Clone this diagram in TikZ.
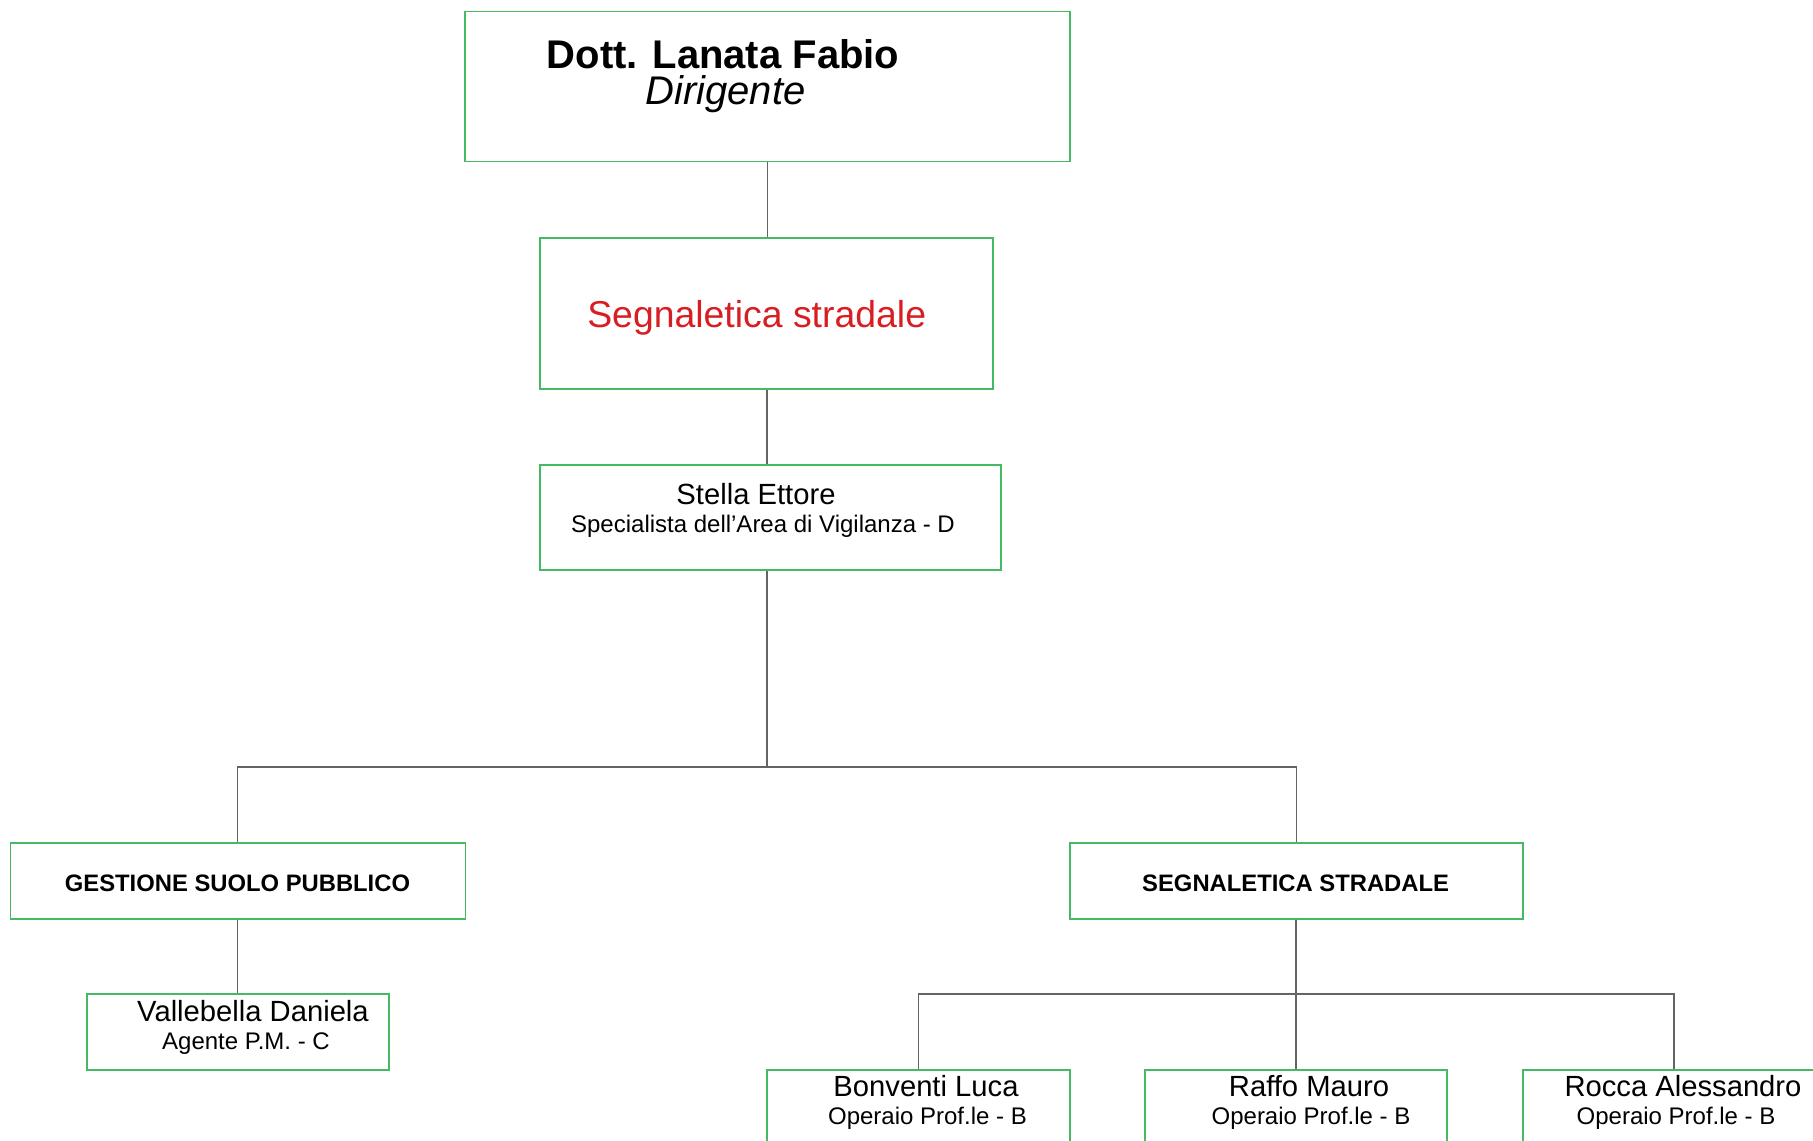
\documentclass[tikz,border=0pt]{standalone}
\usepackage{fontspec}
\setmainfont{Liberation Sans}
\definecolor{boxgreen}{RGB}{70,185,100}
\definecolor{titlered}{RGB}{215,30,35}
\definecolor{linkgray}{RGB}{100,100,100}

\tikzset{
  box/.style={draw=boxgreen,line width=0.6pt,inner sep=0pt},
  link/.style={draw=linkgray,line width=0.7pt},
  txt/.style={anchor=base,inner sep=0pt},
  person/.style={txt,font=\fontsize{14.6pt}{17pt}\selectfont},
  role/.style={txt,font=\fontsize{12pt}{14pt}\selectfont},
  unit/.style={txt,font=\bfseries\fontsize{11.9pt}{14pt}\selectfont}
}

\begin{document}
\begin{tikzpicture}[x=0.5pt,y=-0.5pt]

\clip (0,0) rectangle (1813,1140);
\fill[white] (0,0) rectangle (1813,1140);

% boxes
\node[box,minimum width=302.5pt,minimum height=75pt](dir) at (767.5,86.8){};
\node[box,minimum width=226.5pt,minimum height=75.5pt](topic) at (766.5,313.5){};
\node[box,minimum width=230.5pt,minimum height=52.5pt](stella) at (770.5,517.5){};
\node[box,minimum width=227.5pt,minimum height=38pt](gsp) at (237.7,881){};
\node[box,minimum width=226.5pt,minimum height=38pt](segst) at (1296.5,881){};
\node[box,minimum width=151pt,minimum height=38pt](valle) at (238,1032){};
\node[box,minimum width=151.5pt,minimum height=38pt](bonventi) at (918.5,1108){};
\node[box,minimum width=151pt,minimum height=38pt](raffo) at (1296,1108){};
\node[box,minimum width=151pt,minimum height=38pt](rocca) at (1674,1108){};

% texts
\node[txt,font=\bfseries\fontsize{20pt}{24pt}\selectfont](dirName) at (723,68){Dott. Lanata Fabio};
\node[txt,font=\itshape\fontsize{20pt}{24pt}\selectfont](dirRole) at (725.5,104.5){Dirigente};
\node[txt,text=titlered,font=\fontsize{18.7pt}{22pt}\selectfont](topicName) at (756.7,327){Segnaletica stradale};
\node[person](stellaName) at (756,504){Stella Ettore};
\node[role](stellaRole) at (763,532){Specialista dell’Area di Vigilanza - D};
\node[unit](gspName) at (237.5,891.5){GESTIONE SUOLO PUBBLICO};
\node[unit](segstName) at (1295.6,891.5){SEGNALETICA STRADALE};
\node[person](valleName) at (253,1021){Vallebella Daniela};
\node[role](valleRole) at (246,1049){Agente P.M. - C};
\node[person](bonventiName) at (926,1096){Bonventi Luca};
\node[role](bonventiRole) at (927.5,1124){Operaio Prof.le - B};
\node[person](raffoName) at (1309,1096){Raffo Mauro};
\node[role](raffoRole) at (1311,1124){Operaio Prof.le - B};
\node[person](roccaName) at (1683,1096){Rocca Alessandro};
\node[role](roccaRole) at (1676,1124){Operaio Prof.le - B};

% connectors
\coordinate(fork1) at (767,767);
\coordinate(fork2) at (1296,994);
\draw[link](dir.south)--(dir.south |- topic.north);
\draw[link](fork1 |- topic.south)--(fork1 |- stella.north);
\draw[link](fork1 |- stella.south)--(fork1);
\draw[link](gsp.north)|-(fork1)-|(segst.north);
\draw[link](gsp.south)--(gsp.south |- valle.north);
\draw[link](fork2 |- segst.south)--(fork2 |- raffo.north);
\draw[link](bonventi.north)|-(fork2)-|(rocca.north);

\end{tikzpicture}
\end{document}
